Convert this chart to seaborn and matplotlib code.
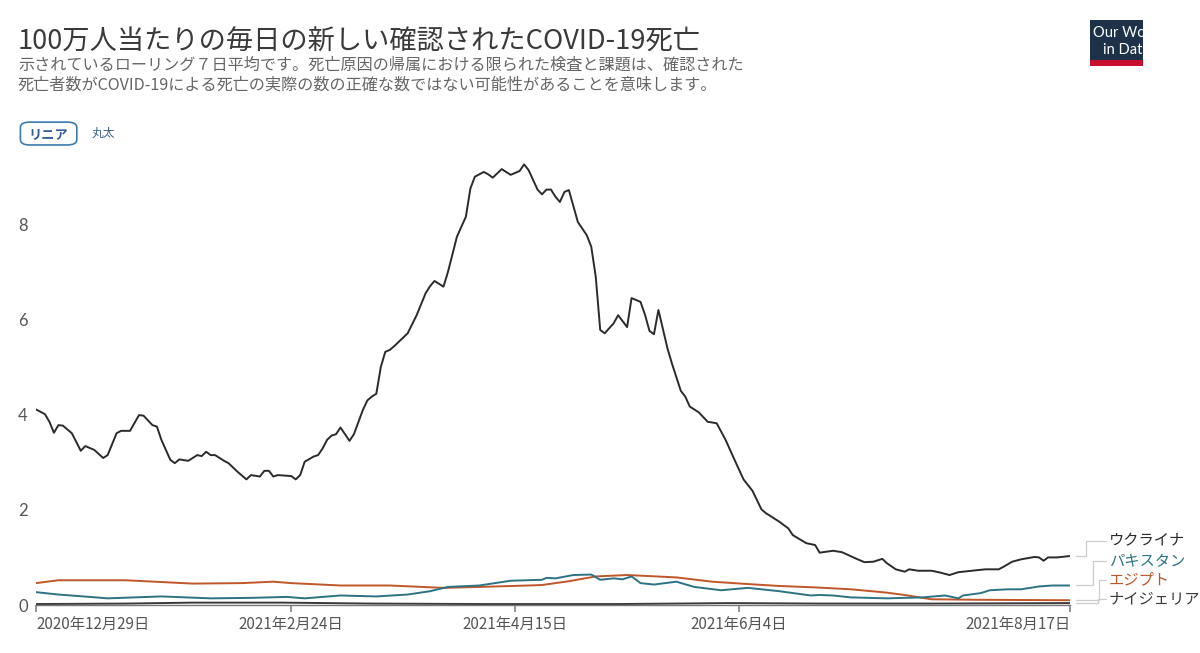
import matplotlib
matplotlib.use("Agg")
import matplotlib.pyplot as plt
from matplotlib.patches import Rectangle, FancyBboxPatch
import seaborn as sns
import pandas as pd
import numpy as np

sns.set_theme(style="white")
plt.rcParams['font.family'] = ['Noto Sans CJK JP', 'DejaVu Sans']

START = "2020-12-29"

ukraine_day = [0, 2, 3, 4, 5, 6, 8, 10, 11, 13, 15, 16, 18, 19, 21, 23, 24, 26, 27, 28,
               30, 31, 32, 34, 36, 37, 38, 39, 40, 42, 43, 45, 47, 48, 50, 51, 52, 53, 54, 57,
               58, 59, 60, 62, 63, 64, 65, 66, 67, 68, 70, 71, 73, 74, 75, 76, 77, 78, 79, 80,
               81, 83, 85, 87, 88, 89, 91, 92, 94, 96, 97, 98, 100, 101, 102, 104, 106, 108, 109, 110,
               112, 113, 114, 115, 116, 117, 118, 119, 121, 123, 124, 125, 126, 127, 129, 130, 132, 133, 135, 136,
               137, 138, 139, 140, 141, 142, 144, 145, 146, 148, 150, 152, 154, 156, 158, 160, 162, 163, 166, 168,
               169, 172, 174, 175, 178, 180, 183, 185, 187, 189, 190, 192, 194, 195, 197, 200, 202, 204, 206, 209,
               212, 215, 216, 218, 220, 223, 224, 225, 226, 228, 231]
ukraine_val = [4.11, 4.01, 3.85, 3.62, 3.78, 3.77, 3.61, 3.24, 3.34, 3.26, 3.09, 3.15, 3.61, 3.66, 3.66, 3.99, 3.98, 3.78, 3.75, 3.47,
               3.05, 2.98, 3.06, 3.03, 3.15, 3.13, 3.22, 3.15, 3.15, 3.03, 2.98, 2.80, 2.64, 2.73, 2.70, 2.82, 2.82, 2.70, 2.73, 2.71,
               2.64, 2.73, 3.01, 3.12, 3.15, 3.29, 3.47, 3.56, 3.59, 3.73, 3.45, 3.59, 4.10, 4.30, 4.38, 4.44, 5.00, 5.32, 5.36, 5.44,
               5.53, 5.71, 6.09, 6.55, 6.70, 6.81, 6.69, 7.00, 7.74, 8.16, 8.75, 9.00, 9.10, 9.05, 8.98, 9.16, 9.04, 9.12, 9.26, 9.14,
               8.73, 8.63, 8.73, 8.73, 8.58, 8.47, 8.68, 8.72, 8.05, 7.77, 7.53, 6.90, 5.78, 5.71, 5.92, 6.09, 5.84, 6.45, 6.37, 6.10,
               5.76, 5.69, 6.20, 5.80, 5.40, 5.08, 4.50, 4.38, 4.17, 4.05, 3.85, 3.82, 3.47, 3.05, 2.64, 2.40, 2.01, 1.93, 1.75, 1.61,
               1.47, 1.30, 1.26, 1.10, 1.14, 1.11, 0.98, 0.90, 0.91, 0.97, 0.88, 0.75, 0.70, 0.75, 0.72, 0.72, 0.68, 0.63, 0.69, 0.72,
               0.75, 0.75, 0.80, 0.91, 0.96, 1.01, 1.00, 0.93, 1.00, 1.00, 1.03]

pakistan_day = [0, 5, 12, 16, 28, 39, 48, 56, 60, 68, 76, 83, 88, 92, 99, 106, 113, 114, 116, 120,
                124, 126, 129, 131, 133, 135, 138, 143, 147, 153, 159, 166, 173, 175, 178, 182, 190, 198, 203, 206,
                207, 211, 213, 217, 220, 224, 227, 231]
pakistan_val = [0.27, 0.22, 0.17, 0.14, 0.18, 0.14, 0.15, 0.17, 0.14, 0.20, 0.18, 0.22, 0.29, 0.38, 0.41, 0.51, 0.53, 0.57, 0.56, 0.63,
                0.64, 0.53, 0.56, 0.54, 0.60, 0.46, 0.43, 0.49, 0.38, 0.31, 0.36, 0.29, 0.20, 0.21, 0.20, 0.16, 0.14, 0.16, 0.20, 0.14,
                0.20, 0.25, 0.31, 0.33, 0.33, 0.39, 0.41, 0.41]

egypt_day = [0, 5, 20, 35, 46, 53, 57, 68, 79, 91, 99, 110, 113, 116, 119, 125, 132, 143, 151, 159,
             166, 174, 182, 190, 194, 198, 200, 210, 231]
egypt_val = [0.46, 0.52, 0.52, 0.45, 0.46, 0.49, 0.46, 0.41, 0.41, 0.36, 0.38, 0.41, 0.42, 0.46, 0.50, 0.60, 0.63, 0.58, 0.49, 0.44,
             0.40, 0.37, 0.33, 0.26, 0.21, 0.15, 0.12, 0.11, 0.10]

nigeria_day = [0, 20, 35, 55, 75, 100, 130, 155, 175, 200, 231]
nigeria_val = [0.02, 0.03, 0.05, 0.05, 0.03, 0.02, 0.02, 0.04, 0.03, 0.03, 0.04]

countries = ["ウクライナ", "パキスタン", "エジプト", "ナイジェリア"]
colors = ["#2b2b2b", "#2c7384", "#c1562a", "#3a3a3a"]
label_y = [1.34, 0.92, 0.53, 0.13]

tick_dates = ["2020-12-29", "2021-02-24", "2021-04-15", "2021-06-04", "2021-08-17"]
tick_labels = ["2020年12月29日", "2021年2月24日", "2021年4月15日", "2021年6月4日", "2021年8月17日"]
y_ticks = [0, 2, 4, 6, 8]

title = "100万人当たりの毎日の新しい確認されたCOVID-19死亡"
subtitle = ("示されているローリング７日平均です。死亡原因の帰属における限られた検査と課題は、確認された\n"
            "死亡者数がCOVID-19による死亡の実際の数の正確な数ではない可能性があることを意味します。")

start = pd.Timestamp(START)
frames = []
for name, d, v in zip(countries,
                      [ukraine_day, pakistan_day, egypt_day, nigeria_day],
                      [ukraine_val, pakistan_val, egypt_val, nigeria_val]):
    frames.append(pd.DataFrame({"date": start + pd.to_timedelta(d, unit="D"),
                                "value": v, "country": name}))
df = pd.concat(frames, ignore_index=True)

fig = plt.figure(figsize=(12, 6.53), dpi=100)
ax = fig.add_axes([0.03, 0.0735, 0.862, 0.685])

sns.lineplot(data=df, x="date", y="value", hue="country", hue_order=countries[::-1],
             palette=dict(zip(countries, colors)), estimator=None, lw=1.4,
             legend=False, ax=ax)

ax.set_xlim(start, pd.Timestamp(tick_dates[-1]))
ax.set_ylim(0, 9.4)
ax.set_xlabel("")
ax.set_ylabel("")
for s in ["top", "right", "left"]:
    ax.spines[s].set_visible(False)
ax.spines["bottom"].set_color("#777777")
ax.spines["bottom"].set_linewidth(1.0)
ax.set_xticks(pd.to_datetime(tick_dates))
xl = ax.set_xticklabels(tick_labels, fontsize=11, color="#555555")
xl[0].set_ha("left")
xl[-1].set_ha("right")
ax.set_yticks(y_ticks)
ax.set_yticklabels([str(t) for t in y_ticks], fontsize=12, color="#555555",
                   family=["Lato", "DejaVu Sans"])
ax.tick_params(axis="x", length=5, color="#888888", pad=3, bottom=True)
ax.tick_params(axis="y", length=0, pad=6, left=False)
ax.grid(False)

# line labels with connectors
end_vals = [ukraine_val[-1], pakistan_val[-1], egypt_val[-1], nigeria_val[-1]]
xm = [1.0155, 1.022, 1.0275, 1.0265]
trans = ax.get_yaxis_transform()
for name, c, ev, ly, xmid in zip(countries, colors, end_vals, label_y, xm):
    ax.plot([1.005, xmid, xmid, 1.034], [ev, ev, ly, ly], color="#cccccc", lw=0.9,
            transform=trans, clip_on=False)
    ax.text(1.037, ly, name, color=c, fontsize=11, va="center", ha="left",
            transform=trans, clip_on=False)

# title & subtitle
fig.text(0.015, 0.936, title, fontsize=19.6, color="#3a3a3a", va="center", ha="left")
fig.text(0.015, 0.913, subtitle, fontsize=11.6, color="#666666", va="top", ha="left",
         linespacing=1.2)

# buttons
btn = FancyBboxPatch((0.017, 0.778), 0.047, 0.035, boxstyle="round,pad=0,rounding_size=0.008",
                     transform=fig.transFigure, facecolor="white", edgecolor="#3b7bb0", lw=1.2)
fig.patches.append(btn)
fig.text(0.0405, 0.7955, "リニア", fontsize=9.5, color="#2f5f9a", ha="center", va="center",
         fontweight="bold")
fig.text(0.076, 0.7955, "丸太", fontsize=8.5, color="#3b5f8a", ha="left", va="center")

# logo
box = Rectangle((0.908, 0.908), 0.0445, 0.061, transform=fig.transFigure,
                facecolor="#1d3148", edgecolor="none")
bar = Rectangle((0.908, 0.899), 0.0445, 0.0095, transform=fig.transFigure,
                facecolor="#c8102e", edgecolor="none")
fig.patches.extend([box, bar])
clip = Rectangle((0.908, 0.899), 0.0445, 0.07, transform=fig.transFigure)
for txt, x, y in [("Our World", 0.911, 0.950), ("in Data", 0.919, 0.924)]:
    t = fig.text(x, y, txt, fontsize=10.5, color="white", ha="left", va="center",
                 family=["Lato", "DejaVu Sans"])
    t.set_clip_path(clip)

fig.savefig("out.png", dpi=100, facecolor="white")
